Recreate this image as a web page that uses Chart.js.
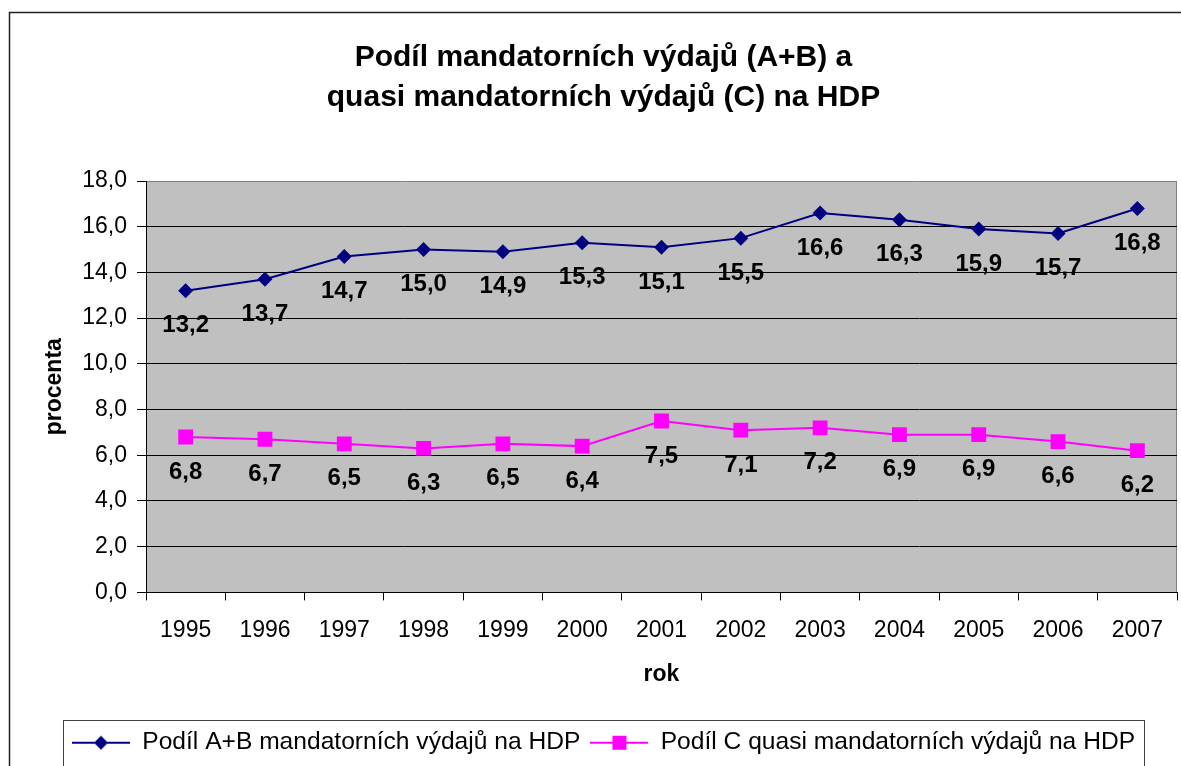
<!DOCTYPE html>
<html>
<head>
<meta charset="utf-8">
<script src="https://cdn.jsdelivr.net/npm/chart.js@4/dist/chart.umd.min.js"></script>
<style>
  html, body { margin: 0; padding: 0; background: #fff; }
  #wrap { position: relative; width: 1181px; height: 766px; }
</style>
</head>
<body>
<div id="wrap"><canvas id="chart"></canvas></div>
<script>
// Years on the x axis
const years = ["1995", "1996", "1997", "1998", "1999", "2000", "2001",
  "2002", "2003", "2004", "2005", "2006", "2007"];

// Share of A+B mandatory expenditure on GDP (%)
const mandatoryAB = [13.2, 13.7, 14.7, 15.0, 14.9, 15.3, 15.1, 15.5, 16.6, 16.3, 15.9, 15.7, 16.8];
// Share of C quasi mandatory expenditure on GDP (%)
const quasiC = [6.8, 6.7, 6.5, 6.3, 6.5, 6.4, 7.5, 7.1, 7.2, 6.9, 6.9, 6.6, 6.2];

const seriesNames = [
  "Podíl A+B mandatorních výdajů na HDP",
  "Podíl C quasi mandatorních výdajů na HDP",
];
const titleLines = ["Podíl mandatorních výdajů (A+B) a", "quasi mandatorních výdajů (C) na HDP"];

const navy = "#000080";
const magenta = "#FF00FF";

// Czech decimal comma
function fmt(v) {
  return v.toFixed(1).replace(".", ",");
}

// Legend icons: a short line with the marker in the middle, like Excel
function makeIcon(color, shape) {
  const c = document.createElement("canvas");
  c.width = 58;
  c.height = 20;
  const g = c.getContext("2d");
  g.strokeStyle = color;
  g.lineWidth = 2;
  g.beginPath();
  g.moveTo(0, 10);
  g.lineTo(58, 10);
  g.stroke();
  g.fillStyle = color;
  if (shape === "diamond") {
    g.beginPath();
    g.moveTo(29, 3);
    g.lineTo(36, 10);
    g.lineTo(29, 17);
    g.lineTo(22, 10);
    g.closePath();
    g.fill();
  } else {
    g.fillRect(22, 3, 14, 14);
  }
  return c;
}
const legendIcons = [makeIcon(navy, "diamond"), makeIcon(magenta, "square")];

// Grey plot background, outer frame and right border of plot area
const frame = {
  id: "frame",
  beforeDraw(chart) {
    const { ctx, chartArea: a } = chart;
    ctx.save();
    ctx.fillStyle = "#ffffff";
    ctx.fillRect(0, 0, chart.width, chart.height);
    ctx.fillStyle = "#C0C0C0";
    ctx.fillRect(a.left, a.top, a.right - a.left, a.bottom - a.top);
    ctx.strokeStyle = "#808080";
    ctx.lineWidth = 1;
    ctx.beginPath();
    ctx.moveTo(a.right - 0.5, a.top);
    ctx.lineTo(a.right - 0.5, a.bottom);
    ctx.stroke();
    ctx.strokeStyle = "#222";
    ctx.lineWidth = 1.5;
    ctx.strokeRect(9.5, 12.5, 1400, 900);
    ctx.restore();
  },
  afterDraw(chart) {
    // box around the legend
    const lg = chart.legend;
    const hb = lg.legendHitBoxes;
    if (!hb || !hb.length) return;
    const { ctx } = chart;
    const l = hb[0].left - 9;
    const r = hb[hb.length - 1].left + hb[hb.length - 1].width + 9;
    ctx.save();
    ctx.strokeStyle = "#404040";
    ctx.lineWidth = 1;
    ctx.strokeRect(Math.round(l) + 0.5, Math.round(lg.top) + 0.5, Math.round(r - l), 100);
    ctx.restore();
  },
};

// Value labels under each point
const pointLabels = {
  id: "pointLabels",
  afterDatasetsDraw(chart) {
    const { ctx } = chart;
    ctx.save();
    ctx.font = "bold 24px 'Liberation Sans', Arial, sans-serif";
    ctx.fillStyle = "#000";
    ctx.textAlign = "center";
    ctx.textBaseline = "middle";
    chart.data.datasets.forEach((ds, i) => {
      chart.getDatasetMeta(i).data.forEach((pt, j) => {
        ctx.fillText(fmt(ds.data[j]), pt.x, pt.y + 35);
      });
    });
    ctx.restore();
  },
};

Chart.defaults.font.family = "'Liberation Sans', Arial, sans-serif";
Chart.defaults.color = "#000";

new Chart(document.getElementById("chart"), {
  type: "line",
  data: {
    labels: years,
    datasets: [
      {
        label: seriesNames[0],
        data: mandatoryAB,
        borderColor: navy,
        backgroundColor: navy,
        borderWidth: 2,
        pointStyle: "rectRot",
        pointRadius: 7.5,
        pointBorderWidth: 0,
        tension: 0,
      },
      {
        label: seriesNames[1],
        data: quasiC,
        borderColor: magenta,
        backgroundColor: magenta,
        borderWidth: 2,
        pointStyle: "rect",
        pointRadius: 10.5,
        pointBorderWidth: 0,
        tension: 0,
      },
    ],
  },
  options: {
    responsive: true,
    maintainAspectRatio: false,
    animation: false,
    // point overflow would otherwise push the plot area in from the right
    layout: { autoPadding: false, padding: { left: 30, right: 4, top: 0, bottom: 1 } },
    plugins: {
      title: {
        display: true,
        text: titleLines,
        font: { size: 30, weight: "bold", lineHeight: 40 / 30 },
        color: "#000",
        padding: { top: 38, bottom: 63 },
      },
      legend: {
        position: "bottom",
        labels: {
          usePointStyle: true,
          pointStyleWidth: 58,
          font: { size: 24.6 },
          color: "#000",
          padding: 10,
          generateLabels(chart) {
            const items = Chart.defaults.plugins.legend.labels.generateLabels(chart);
            items.forEach((it, i) => { it.pointStyle = legendIcons[i]; });
            return items;
          },
        },
      },
      tooltip: { enabled: false },
    },
    scales: {
      x: {
        offset: true,
        grid: { offset: true, drawOnChartArea: false, drawTicks: true, tickLength: 8, color: "#000" },
        border: { color: "#000", width: 1 },
        ticks: { font: { size: 23 }, color: "#000", padding: 16, maxRotation: 0 },
        title: {
          display: true,
          text: "rok",
          font: { size: 23, weight: "bold" },
          color: "#000",
          padding: { top: 0, bottom: 32 },
        },
        afterFit(scale) {
          scale.height = 128;
          scale.paddingLeft = 0;
          scale.paddingRight = 0;
        },
      },
      y: {
        min: 0,
        max: 18,
        grid: {
          color: (c) => (c.tick && c.tick.value === 18 ? "#808080" : "#000"),
          tickColor: "#000",
          tickLength: 9,
          lineWidth: 1,
        },
        border: { color: "#000", width: 1 },
        ticks: {
          stepSize: 2,
          font: { size: 23 },
          color: "#000",
          padding: 10,
          callback: (v) => fmt(v),
        },
        title: {
          display: true,
          text: "procenta",
          font: { size: 23, weight: "bold" },
          color: "#000",
          padding: { top: 11, bottom: 0 },
        },
        afterFit(scale) { scale.width = 116; },
      },
    },
  },
  plugins: [frame, pointLabels],
});
</script>
</body>
</html>
